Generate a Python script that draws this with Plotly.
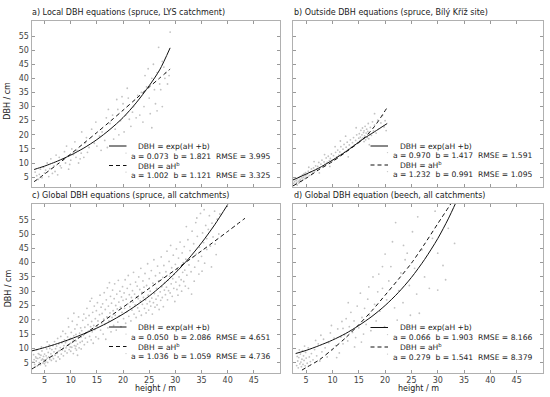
import plotly.graph_objects as go

# ---------------- data ----------------
# Panel a: Local DBH equations (spruce, LYS catchment)
H_a = [3.5,4,4.5,5,5.2,5.8,6,6.5,7,4.2,3.8,6.8,7.5,5.5,4.8,3.2,6.2,7.2,
       8,8.5,9,9.5,10,10.5,11,11.2,11.8,12,8.8,9.2,10.8,12.5,7.8,8.2,9.8,10.2,11.5,9.6,
       12.1,13,14,13.5,14.5,15,15.5,16,16.5,17,13.2,14.8,15.8,12.8,
       17.5,18,18.5,19,19.5,20,20.5,21,21.5,22,22.5,18.8,20.2,21.8,19.2,17.2,22.8,16.8,18.2,20.8,19.8,21.2,
       23.5,24,24.5,25,25.5,26,26.5,27,27.5,27.8,28,28.5,24.2,25.8,26.8,29,27.5,28.2,23.2,26.2,25.2,23.8,24.8,27.2,28.8,25.5,26.5]
D_a = [5.5,6,4.8,6.5,7.5,5.2,8,6.3,7,7.8,4.2,9,5.8,10,8.5,6.8,11.5,12.8,
       9,11,10,12.5,11,13,12,14.5,11.5,13.5,14,16,17.5,12,12,8.3,9.5,15,10,7.8,
       21,19,22,15.5,17,16,19.5,21,18,15.5,13.8,24.5,14.5,17.2,
       24,27,22,29,25,31,27,33,23,30,26,32.5,21,28,20,29,34,26,18.5,36.5,33.5,25.5,
       35,30,37,33,40,36,42,38,30,44,40,38,41,45,51,56.4,46,42,27,31,27.5,24.5,43.4,36,41,22.5,28.5]

# Panel b: Outside DBH equations (spruce, Bílý Kříž site)
H_b = [2.6,2.8,3,3.1,3.2,3.4,3.5,3.6,3.7,3.8,3.9,4,4.1,4.2,4.3,4.4,4.5,4.6,4.7,4.8,4.9,5,2.7,3.3,5,
       5.2,5.4,5.6,5.8,6,6.2,6.4,6.6,6.8,7,7.2,7.4,7.6,7.8,8,8.2,8.4,8.6,8.8,9,9.2,9.4,9.6,9.8,10,6.5,8.5,7.5,9.5,5.5,
       10.2,10.4,10.6,10.8,11,11.2,11.4,11.6,11.8,12,12.2,12.4,12.6,12.8,13,13.2,13.4,13.6,13.8,14,14.2,14.4,14.6,14.8,15,11.5,13,14.5,10.5,12.5,
       15.1,15.2,15.3,15.4,15.5,15.6,15.7,15.8,15.9,16,16,16.1,16.2,16.3,16.4,16.5,16.6,16.7,16.8,16.9,17,17.2,17.4,17.6,17.8,18,18.3,18.6,18.9,19.2,19.5,19.8,20,20.2,18,17]
D_b = [2.8,3.4,2.5,3.9,3.1,4.4,3.6,2.9,4.9,3.8,4.2,5.3,3.5,4.7,5.8,4.1,5.0,6.2,4.5,5.5,6.6,4.9,4.2,2.2,5.8,
       6.0,7.1,5.6,6.8,7.9,6.4,8.3,7.2,9.0,7.8,8.8,10.2,8.2,9.6,11.0,8.9,10.4,9.6,11.8,10.2,12.4,10.8,11.6,13.2,11.0,10.5,13.0,6.5,8.8,8.5,
       12.6,11.4,13.8,12.2,14.6,12.8,13.9,15.8,13.2,14.9,16.6,14.0,15.6,17.4,14.8,16.4,18.2,15.6,17.2,19.0,16.4,18.0,20.0,17.2,18.8,17.8,12.2,22.5,15.8,19.5,
       20.4,17.8,19.2,21.6,18.4,20.0,22.4,18.9,20.8,17.6,21.4,19.6,23.0,18.2,20.6,22.0,19.0,21.2,24.0,18.6,20.2,22.6,19.8,24.6,21.4,23.4,20.6,25.2,22.2,24.2,26.8,22.8,25.0,21.5,27.5,16.5]

# Panel c: Global DBH equations (spruce, all catchments)
H_c = [2.8,3,3.1,3.3,3.4,3.6,3.7,3.8,4,4.1,4.2,4.3,4.4,4.5,4.6,4.7,4.8,4.9,5,5.1,5.2,5.3,5.4,5.5,5.6,5.7,5.8,5.9,6,3.5,2.9,4.4,3.2,5.0,3.9,5.5,4.0,4.8,3.4,5.2,
       6.2,6.3,6.4,6.5,6.6,6.7,6.8,6.9,7,7.1,7.2,7.3,7.4,7.5,7.6,7.7,7.8,7.9,8,8.1,8.2,8.3,8.4,8.5,8.6,8.7,8.8,8.9,9,6.0,
       9.1,9.2,9.3,9.4,9.5,9.6,9.7,9.8,9.9,10,10,10,10.1,10.2,10.3,10.4,10.5,10.6,10.7,10.8,10.9,11,11,11,11.1,11.2,11.3,11.4,11.5,11.6,11.7,11.8,11.9,12,12,9.5,10.6,11.3,9.0,10.5,
       12.1,12.2,12.3,12.4,12.5,12.6,12.7,12.8,12.9,13,13.1,13.2,13.3,13.4,13.5,13.6,13.7,13.8,13.9,14,14,14.1,14.2,14.3,14.4,14.5,14.6,14.7,14.8,14.9,15,15.1,15.2,15.3,15.5,15.6,15.7,15.8,15.9,16,
       16.1,16.2,16.3,16.4,16.5,16.6,16.7,16.8,16.9,17,17.1,17.2,17.3,17.4,17.5,17.6,17.7,17.8,17.9,18,18.1,18.2,18.3,18.4,18.5,18.6,18.7,18.8,18.9,19,19.1,19.2,19.3,19.4,19.5,19.6,19.7,19.8,19.9,20,
       20.1,20.2,20.3,20.4,20.5,20.6,20.7,20.8,20.9,21,21.1,21.2,21.3,21.4,21.5,21.6,21.7,21.8,21.9,22,22.1,22.2,22.3,22.4,22.5,22.6,22.7,22.8,22.9,23,23.1,23.2,23.3,23.4,23.5,23.6,23.7,23.8,23.9,24,
       24.1,24.2,24.3,24.4,24.5,24.6,24.7,24.8,24.9,25,25.1,25.2,25.3,25.4,25.5,25.6,25.7,25.8,25.9,26,26.1,26.2,26.3,26.4,26.5,26.6,26.7,26.8,26.9,27,27.1,27.2,27.3,27.4,27.5,27.6,27.7,27.8,27.9,28,
       28.1,28.2,28.3,28.4,28.5,28.6,28.7,28.8,28.9,29,29.1,29.2,29.3,29.4,29.5,29.6,29.7,29.8,29.9,30,30.1,30.2,30.3,30.4,30.5,30.6,30.7,30.8,30.9,31,31.1,31.2,31.3,31.4,31.5,31.6,31.7,31.8,31.9,32,
       32.2,32.4,32.6,32.8,33,33.2,33.3,33.5,33.7,33.9,34,34.2,34.4,34.6,34.8,35,35.2,35.4,35.6,35.8,36,32.5,33.6,34.5,35.5,32.1,34.1,35.1,33.1,36.0,
       36.3,36.5,36.7,37,37.2,37.5,37.8,38,38.3,36.9,37.6,38.5]
D_c = [5.2,6.1,4.4,7.0,5.6,3.8,6.5,8.2,5.0,6.8,4.3,7.6,5.9,9.1,6.3,4.9,7.2,5.4,8.0,6.0,3.9,7.4,9.8,6.6,5.1,8.6,7.0,11.2,6.2,9.5,7.8,10.5,3.5,4.6,20.0,12.3,7.9,6.0,6.6,5.3,
       8.1,5.8,9.6,7.2,11.0,6.4,8.8,12.4,7.6,9.9,5.5,10.8,8.3,13.5,7.0,11.6,9.2,6.3,10.3,14.2,8.0,12.0,9.5,16.0,7.4,11.0,13.0,9.0,15.2,10.0,
       10.2,12.6,8.4,14.0,11.1,17.5,9.6,13.2,10.5,11.8,9.0,13.5,15.6,10.4,19.5,12.2,8.2,14.4,11.0,16.8,10.0,12.6,10.8,14.9,9.4,18.3,11.5,13.7,21.0,10.2,15.3,12.1,17.2,14.0,9.8,20.5,22.3,7.6,12.0,13.0,
       16.2,12.5,19.8,14.6,22.0,11.3,17.4,13.6,20.6,15.5,24.0,12.2,18.3,16.0,21.5,14.2,26.5,17.6,13.0,19.4,27.5,15.8,22.6,11.8,18.0,24.8,16.6,20.4,14.0,23.2,17.8,26.0,19.6,13.4,21.8,28.6,16.4,24.4,18.8,22.2,
       25.6,15.0,20.2,29.5,18.4,23.6,13.2,27.0,21.0,31.2,17.2,24.8,19.6,33.0,22.4,28.2,15.8,25.8,20.8,30.4,23.2,18.0,27.4,32.6,21.6,25.0,16.4,29.0,23.8,19.2,33.8,26.2,21.4,30.0,24.4,17.6,28.0,22.6,31.6,26.8,
       20.4,29.4,24.0,34.0,18.8,27.2,22.8,31.0,25.6,35.5,21.2,28.8,24.6,32.4,19.6,27.8,23.4,30.2,26.2,36.6,22.0,29.0,25.2,33.2,20.8,28.0,31.8,24.2,27.4,35.0,23.0,30.6,26.6,38.0,21.6,29.6,25.4,33.6,27.8,31.4,
       24.0,36.2,27.0,22.4,32.0,25.6,39.6,28.6,23.4,34.4,26.4,30.0,24.8,37.2,27.6,22.0,32.8,26.0,41.0,29.2,24.4,35.4,27.2,31.0,25.2,38.8,28.4,33.6,23.6,36.4,29.8,26.8,42.0,31.6,27.8,34.8,24.6,39.0,30.4,33.0,
       28.8,36.8,31.4,44.0,27.0,33.8,30.2,40.4,35.2,29.4,46.0,32.6,38.2,28.2,34.4,42.6,31.0,36.0,26.4,39.4,33.2,44.8,30.6,37.6,28.6,41.6,35.0,32.0,47.2,38.6,34.0,30.0,43.4,36.6,40.0,33.4,45.6,37.4,31.8,41.2,
       35.6,48.0,39.2,44.2,36.8,51.0,41.8,46.6,38.4,54.0,43.0,49.2,40.6,45.4,57.2,42.2,50.4,47.0,39.8,53.0,44.6,31.0,33.5,36.0,58.5,52.6,55.6,37.0,29.0,48.4,
       51.6,56.4,45.8,53.8,49.0,58.0,42.8,55.2,50.0,38.5,46.5,57.0]

# Panel d: Global DBH equation (beech, all catchments)
H_d = [3.2,3.4,3.5,3.6,3.8,3.9,4,4.1,4.2,4.3,4.4,4.5,4.6,4.8,4.9,5,5.2,5.4,5.6,5.8,3.7,4.7,3.3,6,
       6.3,6.6,7,7.3,7.6,8,8.3,8.6,9,9.3,9.6,10,10.3,10.6,11,11.3,11.6,12,7.8,9.8,11.8,6.8,10.8,12,
       12.3,12.6,12.9,13.2,13.5,13.8,14.1,14.4,14.7,15,15.3,15.6,15.9,16.1,16.4,16.7,17,17.3,17.7,18,13,14.2,16.9,15.5,
       18.3,18.6,19,19.5,19.5,19.9,20.3,20.7,21.1,21.4,21.8,22.3,22.6,23,23.4,23.8,24.2,24.6,25.2,24.8,20,22,18.8,23.5,
       25.6,26.2,26.5,27,27.5,28.4,29,30,30,31,32,33.2,29.5,31.5,26]
D_d = [4.0,5.6,3.2,6.8,4.6,8.0,5.2,3.6,6.2,9.2,4.4,7.4,5.8,3.9,8.6,6.6,4.8,10.2,7.0,5.4,9.5,10.8,7.2,8.2,
       6.0,9.6,7.4,11.6,5.6,8.8,13.2,10.2,7.0,12.0,15.4,9.6,13.6,11.0,16.8,8.4,14.0,11.6,14.6,18.0,19.4,12.8,6.8,17.0,
       14.8,20.4,12.6,17.6,22.6,15.6,19.6,13.8,24.8,17.2,29.3,20.8,15.0,24.0,18.4,27.2,21.6,16.2,35.0,25.4,26.0,10.5,31.5,12.2,
       19.6,29.8,23.0,31.0,38.6,17.6,27.0,33.6,38.6,47.3,24.2,19.9,30.2,36.4,26.0,41.0,43.3,32.0,50.8,21.6,43.0,54.0,36.0,46.0,
       38.0,56.0,22.3,44.5,35.0,31.0,48.5,30.4,43.3,39.0,52.0,46.7,58.0,34.0,29.0]

# Fitted curves at a few heights
CA_H_exp = [3, 4, 5, 6, 7.5, 10, 12.5, 15, 17.5, 20, 22.5, 25, 27, 29]
CA_D_exp = [7.7, 8.3, 8.9, 9.6, 10.7, 12.8, 15.3, 18.3, 21.9, 26.1, 31.3, 37.4, 43.0, 50.8]
CA_H_pow = [3, 4, 5, 7.5, 10, 12.5, 15, 17.5, 20, 22.5, 25, 27, 29]
CA_D_pow = [3.4, 4.7, 6.1, 9.6, 13.2, 17.0, 20.8, 24.7, 28.7, 32.8, 36.9, 40.1, 43.3]

CB_H_exp = [2.5, 5, 7.3, 10, 12.5, 15.75, 18, 20.4]
CB_D_exp = [4.0, 6.1, 8.1, 11.0, 14.0, 18.4, 21.1, 24.0]
CB_H_pow = [2.5, 5, 7.3, 10, 12.5, 15.75, 18, 20.4]
CB_D_pow = [1.9, 4.6, 7.5, 10.5, 13.8, 18.4, 23.0, 29.7]

CC_H_exp = [2.5, 5, 7.5, 10, 12.5, 15, 17.5, 20, 22.5, 25, 27.5, 30, 32.5, 35, 37.5, 40]
CC_D_exp = [9.1, 10.3, 11.7, 13.3, 15.1, 17.1, 19.4, 22.0, 25.0, 28.3, 32.1, 36.4, 41.3, 46.9, 53.2, 60.3]
CC_H_pow = [2.5, 5, 7.5, 10, 15, 20, 25, 30, 35, 40, 43.3]
CC_D_pow = [2.7, 5.6, 8.7, 11.8, 18.0, 24.4, 31.0, 37.5, 44.1, 50.9, 55.5]

CD_H_exp = [3, 5, 7.5, 10, 12.5, 15, 17.5, 20, 22.5, 25, 27.5, 30, 32, 33.5]
CD_D_exp = [8.2, 9.3, 11.0, 12.9, 15.2, 18.0, 21.2, 25.0, 29.5, 34.8, 41.1, 48.4, 55.3, 61.2]
CD_H_pow = [4.2, 5, 7.5, 10, 12.5, 15, 17.5, 20, 22.5, 25, 27.5, 30, 33]
CD_D_pow = [2.4, 3.3, 6.0, 9.7, 13.7, 18.3, 23.2, 28.6, 34.1, 39.8, 46.5, 53.6, 62.0]

titles = ["a) Local DBH equations (spruce, LYS catchment)",
          "b) Outside DBH equations (spruce, Bílý Kříž site)",
          "c) Global DBH equations (spruce, all catchments)",
          "d) Global DBH equation (beech, all catchments)"]
GAP = "\u00a0\u00a0"
stats_exp = [GAP.join(["a = 0.073", "b = 1.821", "RMSE = 3.995"]),
             GAP.join(["a = 0.970", "b = 1.417", "RMSE = 1.591"]),
             GAP.join(["a = 0.050", "b = 2.086", "RMSE = 4.651"]),
             GAP.join(["a = 0.066", "b = 1.903", "RMSE = 8.166"])]
stats_pow = [GAP.join(["a = 1.002", "b = 1.121", "RMSE = 3.325"]),
             GAP.join(["a = 1.232", "b = 0.991", "RMSE = 1.095"]),
             GAP.join(["a = 1.036", "b = 1.059", "RMSE = 4.736"]),
             GAP.join(["a = 0.279", "b = 1.541", "RMSE = 8.379"])]
x_ticks = [5, 10, 15, 20, 25, 30, 35, 40, 45]
y_ticks = [5, 10, 15, 20, 25, 30, 35, 40, 45, 50, 55]

# ---------------- layout helpers ----------------
W, Hh = 550, 397
FONT = "DejaVu Sans"
FS_TICK = 8
FS_LEG = 7.6
def px(x): return x / W
def py(y): return 1 - y / Hh

# panel boxes in pixels: (left, right, top, bottom)
boxes = [(31.5, 280, 20.5, 187), (293, 543, 20.5, 187),
         (31.5, 280, 204, 372.7), (293, 543, 204, 372.7)]
# legend rows (y px) per panel
leg_rows = [(146, 156, 165.5, 175), (146, 155.5, 165, 174.5),
            (327, 337, 346.5, 356.5), (327.5, 337.5, 347, 357)]

scat = [(H_a, D_a), (H_b, D_b), (H_c, D_c), (H_d, D_d)]
curves = [(CA_H_exp, CA_D_exp, CA_H_pow, CA_D_pow),
          (CB_H_exp, CB_D_exp, CB_H_pow, CB_D_pow),
          (CC_H_exp, CC_D_exp, CC_H_pow, CC_D_pow),
          (CD_H_exp, CD_D_exp, CD_H_pow, CD_D_pow)]

fig = go.Figure()
annotations = []
shapes = []
layout_axes = {}
for i in range(4):
    n = "" if i == 0 else str(i + 1)
    xa, ya = "x" + n, "y" + n
    L, R, T, B = boxes[i]
    hx, dy = scat[i]
    fig.add_trace(go.Scatter(x=hx, y=dy, xaxis=xa, yaxis=ya, mode="markers",
                             marker=dict(size=1.8, color="#c2c2c2", line=dict(width=0)),
                             showlegend=False, hoverinfo="skip"))
    he, de, hp, dp = curves[i]
    fig.add_trace(go.Scatter(x=he, y=de, xaxis=xa, yaxis=ya, mode="lines",
                             line=dict(color="#111111", width=1, shape="spline", smoothing=0.8),
                             showlegend=False))
    fig.add_trace(go.Scatter(x=hp, y=dp, xaxis=xa, yaxis=ya, mode="lines",
                             line=dict(color="#111111", width=1, dash="4px,3px", shape="spline",
                                       smoothing=0.8),
                             showlegend=False))
    common = dict(ticks="inside", ticklen=3, tickwidth=1, tickcolor="#999999",
                  showline=True, linecolor="#b0b0b0", linewidth=1, mirror="ticks",
                  showgrid=False, zeroline=False,
                  tickfont=dict(family=FONT, size=FS_TICK, color="#444444"))
    layout_axes["xaxis" + n] = dict(common, domain=[px(L), px(R)], anchor=ya,
                                   range=[2.5, 50], tickvals=x_ticks,
                                   showticklabels=(i >= 2))
    layout_axes["yaxis" + n] = dict(common, domain=[py(B), py(T)], anchor=xa,
                                   range=[1.5, 60.5], tickvals=y_ticks,
                                   showticklabels=(i % 2 == 0))
    # title
    annotations.append(dict(text=titles[i], xref="paper", yref="paper",
                            x=px(L - 1.5), y=py(T - 2), xanchor="left", yanchor="bottom",
                            showarrow=False, font=dict(family=FONT, size=8, color="#222222")))
    # legend
    r1, r2, r3, r4 = leg_rows[i]
    shapes.append(dict(type="line", xref="paper", yref="paper",
                       x0=px(L + 77.5), x1=px(L + 95), y0=py(r1), y1=py(r1),
                       line=dict(color="#111111", width=1)))
    shapes.append(dict(type="line", xref="paper", yref="paper",
                       x0=px(L + 77.5), x1=px(L + 95), y0=py(r3), y1=py(r3),
                       line=dict(color="#111111", width=1, dash="4px,3px")))
    for rr in (r2, r4):
        shapes.append(dict(type="circle", xref="paper", yref="paper",
                           x0=px(L + 93.8), x1=px(L + 95.2), y0=py(rr - 2.2), y1=py(rr - 3.6),
                           line=dict(width=0), fillcolor="#c8c8c8"))
    for (txt, xx, yy) in [("DBH = exp(aH +b)", L + 104.5, r1), (stats_exp[i], L + 97.5, r2),
                          ("DBH = aH<sup>b</sup>", L + 104.5, r3), (stats_pow[i], L + 97.5, r4)]:
        annotations.append(dict(text=txt, xref="paper", yref="paper", x=px(xx), y=py(yy),
                                xanchor="left", yanchor="middle", showarrow=False,
                                font=dict(family=FONT, size=FS_LEG, color="#222222")))

# axis labels
for yc in [(20.5 + 187) / 2 - 3, (204 + 372.7) / 2 - 0]:
    annotations.append(dict(text="DBH / cm", xref="paper", yref="paper", x=px(8), y=py(yc),
                            xanchor="center", yanchor="middle", textangle=-90, showarrow=False,
                            font=dict(family=FONT, size=8, color="#222222")))
for xc in [(31.5 + 280) / 2, (293 + 543) / 2]:
    annotations.append(dict(text="height / m", xref="paper", yref="paper", x=px(xc), y=py(388),
                            xanchor="center", yanchor="middle", showarrow=False,
                            font=dict(family=FONT, size=8, color="#222222")))

fig.update_layout(width=W, height=Hh, margin=dict(l=0, r=0, t=0, b=0),
                  paper_bgcolor="white", plot_bgcolor="white",
                  annotations=annotations, shapes=shapes, showlegend=False,
                  font=dict(family=FONT), **layout_axes)
fig.write_html("out.html", config={"displayModeBar": False},
               post_script="document.body.style.margin='0';")
